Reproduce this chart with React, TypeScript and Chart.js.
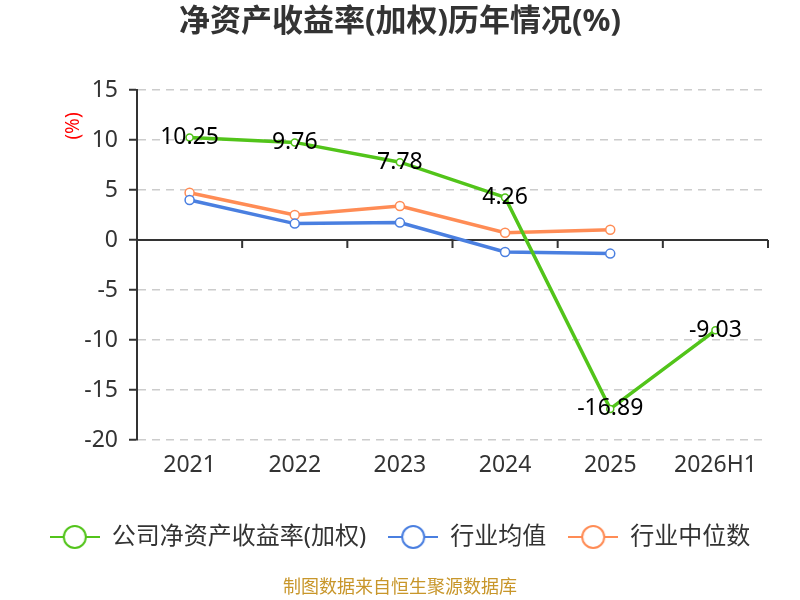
import React, { useEffect, useRef } from 'react';
import { Chart, registerables } from 'chart.js';

Chart.register(...registerables);

const categories = ['2021', '2022', '2023', '2024', '2025', '2026H1'];
const companyRoe = [10.25, 9.76, 7.78, 4.26, -16.89, -9.03];
const industryAvg = [4.0, 1.64, 1.74, -1.2, -1.36, null];
const industryMedian = [4.73, 2.5, 3.4, 0.73, 1.03, null];
const yTicks = [15, 10, 5, 0, -5, -10, -15, -20];

const GREEN = '#52c41a';
const BLUE = '#4a7fe0';
const ORANGE = '#ff8c55';
const FONT = "'Noto Sans', 'Noto Sans CJK SC', sans-serif";

function legendIcon(color: string) {
  const c = document.createElement('canvas');
  c.width = 50;
  c.height = 26;
  const ctx = c.getContext('2d')!;
  ctx.strokeStyle = color;
  ctx.lineWidth = 2;
  ctx.beginPath();
  ctx.moveTo(0, 13);
  ctx.lineTo(50, 13);
  ctx.stroke();
  ctx.beginPath();
  ctx.arc(25, 13, 11, 0, Math.PI * 2);
  ctx.fillStyle = '#fff';
  ctx.fill();
  ctx.stroke();
  return c;
}

const zeroLine = {
  id: 'zeroLine',
  beforeDatasetsDraw(chart: any) {
    const { ctx, chartArea, scales } = chart;
    const y0 = scales.y.getPixelForValue(0);
    const step = (chartArea.right - chartArea.left) / categories.length;
    ctx.save();
    ctx.strokeStyle = '#333';
    ctx.lineWidth = 2;
    ctx.beginPath();
    ctx.moveTo(chartArea.left, y0);
    ctx.lineTo(chartArea.right, y0);
    categories.forEach((_, i) => {
      const x = scales.x.getPixelForValue(i) + step / 2;
      ctx.moveTo(x, y0);
      ctx.lineTo(x, y0 + 8);
    });
    ctx.stroke();
    ctx.restore();
  },
};

const valueLabels = {
  id: 'valueLabels',
  afterDatasetsDraw(chart: any) {
    const { ctx } = chart;
    const meta = chart.getDatasetMeta(0);
    ctx.save();
    ctx.fillStyle = '#000';
    ctx.font = `23px ${FONT}`;
    ctx.textAlign = 'center';
    ctx.textBaseline = 'middle';
    meta.data.forEach((pt: any, i: number) => {
      ctx.fillText(companyRoe[i].toFixed(2), pt.x, pt.y);
    });
    ctx.restore();
  },
};

const unitLabel = {
  id: 'unitLabel',
  afterDraw(chart: any) {
    const { ctx } = chart;
    ctx.save();
    ctx.translate(74, 126);
    ctx.rotate(-Math.PI / 2);
    ctx.fillStyle = '#ff0000';
    ctx.font = `19px ${FONT}`;
    ctx.textAlign = 'center';
    ctx.textBaseline = 'middle';
    ctx.fillText('(%)', 0, 0);
    ctx.restore();
  },
};

export default function App() {
  const canvasRef = useRef<HTMLCanvasElement>(null);

  useEffect(() => {
    const el = canvasRef.current;
    if (!el) return;
    const icons = [legendIcon(GREEN), legendIcon(BLUE), legendIcon(ORANGE)];

    const line = (label: string, data: any[], color: string, r: number) => ({
      label,
      data,
      borderColor: color,
      backgroundColor: '#fff',
      borderWidth: 3.5,
      pointRadius: r,
      pointBorderWidth: 1.5,
      pointBackgroundColor: '#fff',
      pointBorderColor: color,
      tension: 0,
      spanGaps: false,
    });

    const chart = new Chart(el, {
      type: 'line',
      data: {
        labels: categories,
        datasets: [
          line('公司净资产收益率(加权)', companyRoe, GREEN, 3.5),
          line('行业均值', industryAvg, BLUE, 4.5),
          line('行业中位数', industryMedian, ORANGE, 4.5),
        ],
      },
      options: {
        responsive: false,
        animation: false,
        layout: { padding: { left: 16, right: 16, top: 0, bottom: 0 } },
        plugins: {
          tooltip: { enabled: false },
          title: {
            display: true,
            text: '净资产收益率(加权)历年情况(%)',
            color: '#333',
            font: { family: FONT, size: 31, weight: 'bold' },
            padding: { top: 3.4, bottom: 49.4 },
          },
          subtitle: {
            display: true,
            position: 'bottom',
            text: '制图数据来自恒生聚源数据库',
            color: '#c8962a',
            font: { family: FONT, size: 18 },
            padding: { top: 18.2, bottom: 1.2 },
          },
          legend: {
            position: 'bottom',
            labels: {
              color: '#333',
              font: { family: FONT, size: 24 },
              usePointStyle: true,
              pointStyleWidth: 50,
              padding: 22,
              generateLabels: (c: any) =>
                Chart.defaults.plugins.legend.labels
                  .generateLabels(c)
                  .map((item: any, i: number) => ({ ...item, pointStyle: icons[i] })),
            },
          },
        },
        scales: {
          x: {
            offset: true,
            border: { display: false },
            grid: { display: false, drawTicks: false },
            ticks: { color: '#333', font: { family: FONT, size: 23 }, padding: 12 },
            afterFit: (s: any) => { s.height = 63; },
          },
          y: {
            min: -20,
            max: 15,
            afterBuildTicks: (s: any) => { s.ticks = yTicks.map((v) => ({ value: v })); },
            afterFit: (s: any) => { s.width = 121; },
            border: { display: true, color: '#333', width: 2 },
            grid: {
              color: '#ccc',
              lineWidth: 1.5,
              tickLength: 8,
              tickColor: '#333',
              tickWidth: 2,
              tickBorderDash: [],
            },
            ticks: { color: '#333', font: { family: FONT, size: 23 }, padding: 11 },
          },
          yRight: {
            position: 'right',
            display: true,
            border: { display: false },
            grid: { display: false, drawTicks: false },
            ticks: { display: false },
            afterFit: (s: any) => { s.width = 16; },
          },
        },
      },
      plugins: [zeroLine, valueLabels, unitLabel],
    } as any);

    // dashed grid lines
    (chart.options.scales as any).y.grid.borderDash = [8, 6];
    (chart.options.scales as any).y.border.dash = [8, 6];
    chart.update();

    return () => chart.destroy();
  }, []);

  return (
    <div style={{ position: 'fixed', left: 0, top: 0, width: 800, height: 600, background: '#fff' }}>
      <canvas ref={canvasRef} width={800} height={600} />
    </div>
  );
}
